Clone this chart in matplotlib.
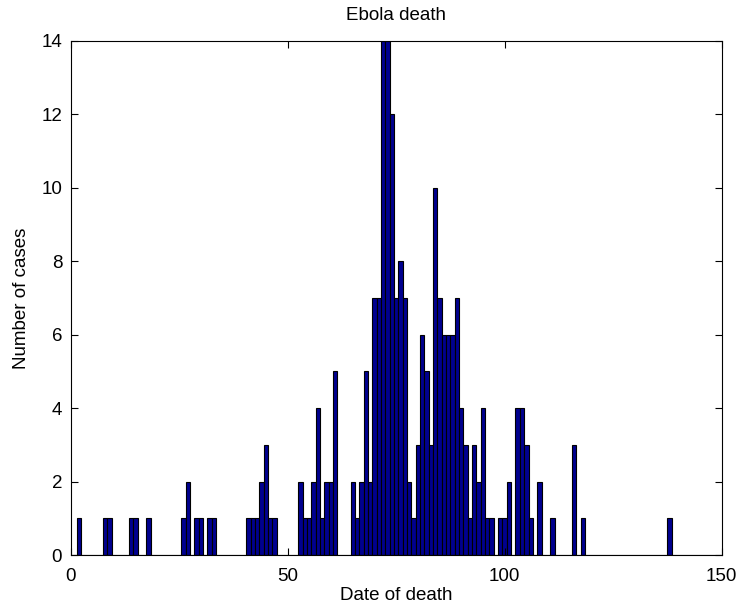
import matplotlib
matplotlib.use("Agg")
import matplotlib.pyplot as plt

# Deaths per day
days = [2, 8, 9, 14, 15, 18, 26, 27, 29, 30, 32, 33, 41, 42, 43, 44, 45, 46, 47,
        53, 54, 55, 56, 57, 58, 59, 60, 61, 65, 66, 67, 68, 69, 70, 71, 72, 73,
        74, 75, 76, 77, 78, 79, 80, 81, 82, 83, 84, 85, 86, 87, 88, 89, 90, 91,
        92, 93, 94, 95, 96, 97, 99, 100, 101, 103, 104, 105, 106, 108, 111,
        116, 118, 138]
counts = [1, 1, 1, 1, 1, 1, 1, 2, 1, 1, 1, 1, 1, 1, 1, 2, 3, 1, 1,
          2, 1, 1, 2, 4, 1, 2, 2, 5, 2, 1, 2, 5, 2, 7, 7, 14, 14,
          12, 7, 8, 7, 2, 1, 3, 6, 5, 3, 10, 7, 6, 6, 6, 7, 4, 3,
          1, 3, 2, 4, 1, 1, 1, 1, 2, 4, 4, 3, 1, 2, 1,
          3, 1, 1]

x_ticks = [0, 50, 100, 150]
y_ticks = [0, 2, 4, 6, 8, 10, 12, 14]

plt.rcParams['font.family'] = ['Liberation Sans', 'DejaVu Sans']
FS = 13.5

fig = plt.figure(figsize=(7.39, 6.05), dpi=100)
ax = fig.add_axes([0.0954, 0.0826, 0.8812, 0.8501])

ax.bar(days, counts, width=1.0, color=(0, 0, 0.5625), edgecolor='black',
       linewidth=0.8)
ax.axhline(0, xmin=0.0, xmax=1.0, color='black', linewidth=0.8)

ax.set_xlim(0, 150)
ax.set_ylim(0, 14)
ax.set_xticks(x_ticks)
ax.set_yticks(y_ticks)
ax.tick_params(direction='in', length=5, width=0.8, top=True, right=True,
               labelsize=FS, colors='black')
ax.tick_params(axis='x', pad=9)
ax.tick_params(axis='y', pad=6)
for s in ax.spines.values():
    s.set_linewidth(0.8)

ax.set_title('Ebola death', fontsize=FS, pad=15)
ax.set_xlabel('Date of death', fontsize=FS, labelpad=2)
ax.set_ylabel('Number of cases', fontsize=FS, labelpad=8)

fig.savefig('out.png', dpi=100)
